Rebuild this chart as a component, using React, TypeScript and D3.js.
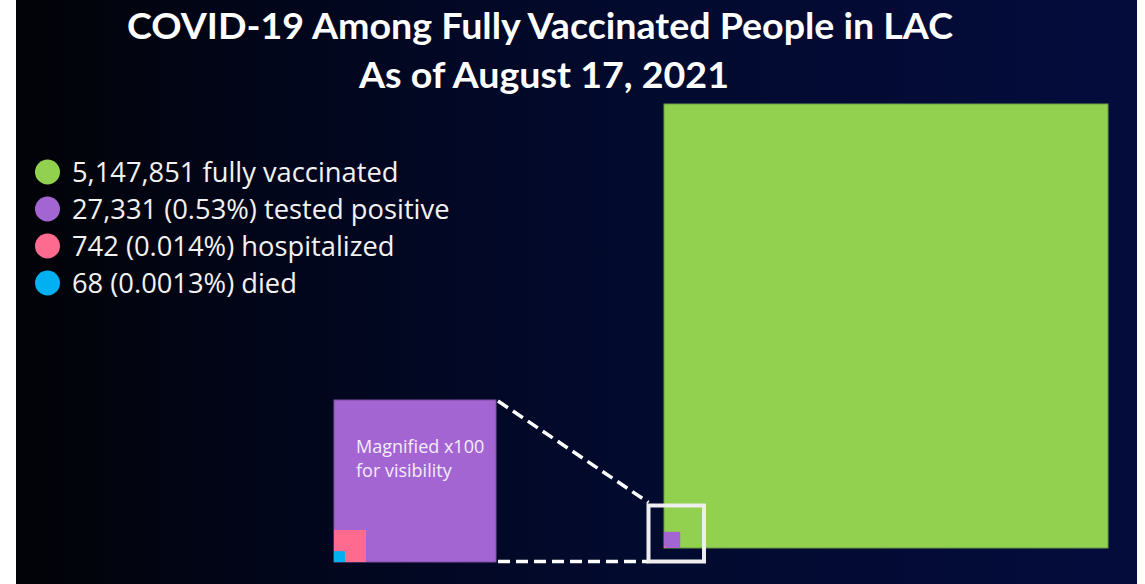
import React from 'react';
import * as d3 from 'd3';

// 차트 데이터
const TITLE_LINES = ['COVID-19 Among Fully Vaccinated People in LAC', 'As of August 17, 2021'];
const CATEGORIES = ['fully vaccinated', 'tested positive', 'hospitalized', 'died'];
const COUNTS = [5147851, 27331, 742, 68];
const PERCENT_LABELS = ['', '0.53%', '0.014%', '0.0013%'];
const COLORS = ['#92d050', '#a365d1', '#ff6b8f', '#00b0f0'];
const EDGE_COLORS = ['#6f9c45', '#7d4fa6', '#ff6b8f', '#00b0f0'];
const MAGNIFY_NOTE = ['Magnified x100', 'for visibility'];

const W = 1145;
const H = 584;
const TITLE_FONT = 'Lato, "Open Sans", sans-serif';
const BODY_FONT = '"Open Sans", Lato, sans-serif';

export default function App() {
  // 메인 사각형 (왼쪽 아래 기준)
  const mainX = 664;
  const mainBottom = 548;
  const mainSize = 444;
  // 확대 사각형
  const magX = 334;
  const magBottom = 562;
  const magSize = 162;

  const mainSide = d3.scalePow().exponent(0.632).domain([0, COUNTS[0]]).range([0, mainSize]);
  const magSide = d3.scalePow().exponent(0.45).domain([0, COUNTS[1]]).range([0, magSize]);

  // 하이라이트 박스
  const hl = { x: 648.5, y: 505.5, w: 55.5, h: 56 };
  const magTop = magBottom - magSide(COUNTS[1]);
  const magRight = magX + magSide(COUNTS[1]);

  const fmt = d3.format(',');
  const legendY = d3.scalePoint<number>().domain(d3.range(CATEGORIES.length)).range([172, 283]);

  return (
    <div>
      <style>{'body{margin:0}'}</style>
      <svg width={W} height={H} style={{ display: 'block' }}>
        <defs>
          <linearGradient id="bg" x1="0" x2="1" y1="0" y2="0">
            <stop offset="0" stopColor="#020307" />
            <stop offset="0.25" stopColor="#02061c" />
            <stop offset="0.55" stopColor="#020a2e" />
            <stop offset="1" stopColor="#040c3c" />
          </linearGradient>
        </defs>
        <rect x={0} y={0} width={W} height={H} fill="#ffffff" />
        <rect x={16} y={0} width={1121} height={H} fill="url(#bg)" />

        {/* 제목 */}
        <text x={540} y={39} textAnchor="middle" fill="#fff" fontFamily={TITLE_FONT} fontWeight={700} fontSize={37}
          textLength={826} lengthAdjust="spacingAndGlyphs">
          {TITLE_LINES[0]}
        </text>
        <text x={544} y={88} textAnchor="middle" fill="#fff" fontFamily={TITLE_FONT} fontWeight={700} fontSize={37}
          textLength={370} lengthAdjust="spacingAndGlyphs">
          {TITLE_LINES[1]}
        </text>

        {/* 범례 */}
        {CATEGORIES.map((cat, i) => (
          <g key={cat} transform={`translate(0, ${legendY(i)})`}>
            <circle cx={47.5} cy={0} r={12.5} fill={COLORS[i]} />
            <text x={72} y={9.5} fill="#f2f2f2" fontFamily={BODY_FONT} fontSize={27.3}>
              {fmt(COUNTS[i]) + (PERCENT_LABELS[i] ? ` (${PERCENT_LABELS[i]})` : '') + ' ' + cat}
            </text>
          </g>
        ))}

        {/* 메인 사각형 */}
        {COUNTS.map((c, i) => {
          const s = mainSide(c);
          return (
            <rect key={'m' + i} x={mainX} y={mainBottom - s} width={s} height={s} fill={COLORS[i]}
              stroke={i === 0 ? EDGE_COLORS[i] : 'none'} strokeWidth={1} />
          );
        })}

        {/* 확대 사각형 */}
        {COUNTS.slice(1).map((c, j) => {
          const i = j + 1;
          const s = magSide(c);
          return (
            <rect key={'z' + i} x={magX} y={magBottom - s} width={s} height={s} fill={COLORS[i]}
              stroke={i === 1 ? EDGE_COLORS[i] : 'none'} strokeWidth={1} />
          );
        })}
        {MAGNIFY_NOTE.map((t, i) => (
          <text key={t} x={356} y={453 + i * 24} fill="#f4ecfb" fontFamily={BODY_FONT} fontSize={18}>
            {t}
          </text>
        ))}

        {/* 연결 점선 */}
        <line x1={magRight + 2} y1={magTop + 1} x2={hl.x} y2={hl.y - 3} stroke="#fff" strokeWidth={3.5}
          strokeDasharray="12 6" />
        <line x1={magRight + 2} y1={hl.y + hl.h} x2={hl.x} y2={hl.y + hl.h} stroke="#fff" strokeWidth={3.5}
          strokeDasharray="12 6" />
        <rect x={hl.x} y={hl.y} width={hl.w} height={hl.h} fill="none" stroke="#eeeeee" strokeWidth={4} />
      </svg>
    </div>
  );
}
